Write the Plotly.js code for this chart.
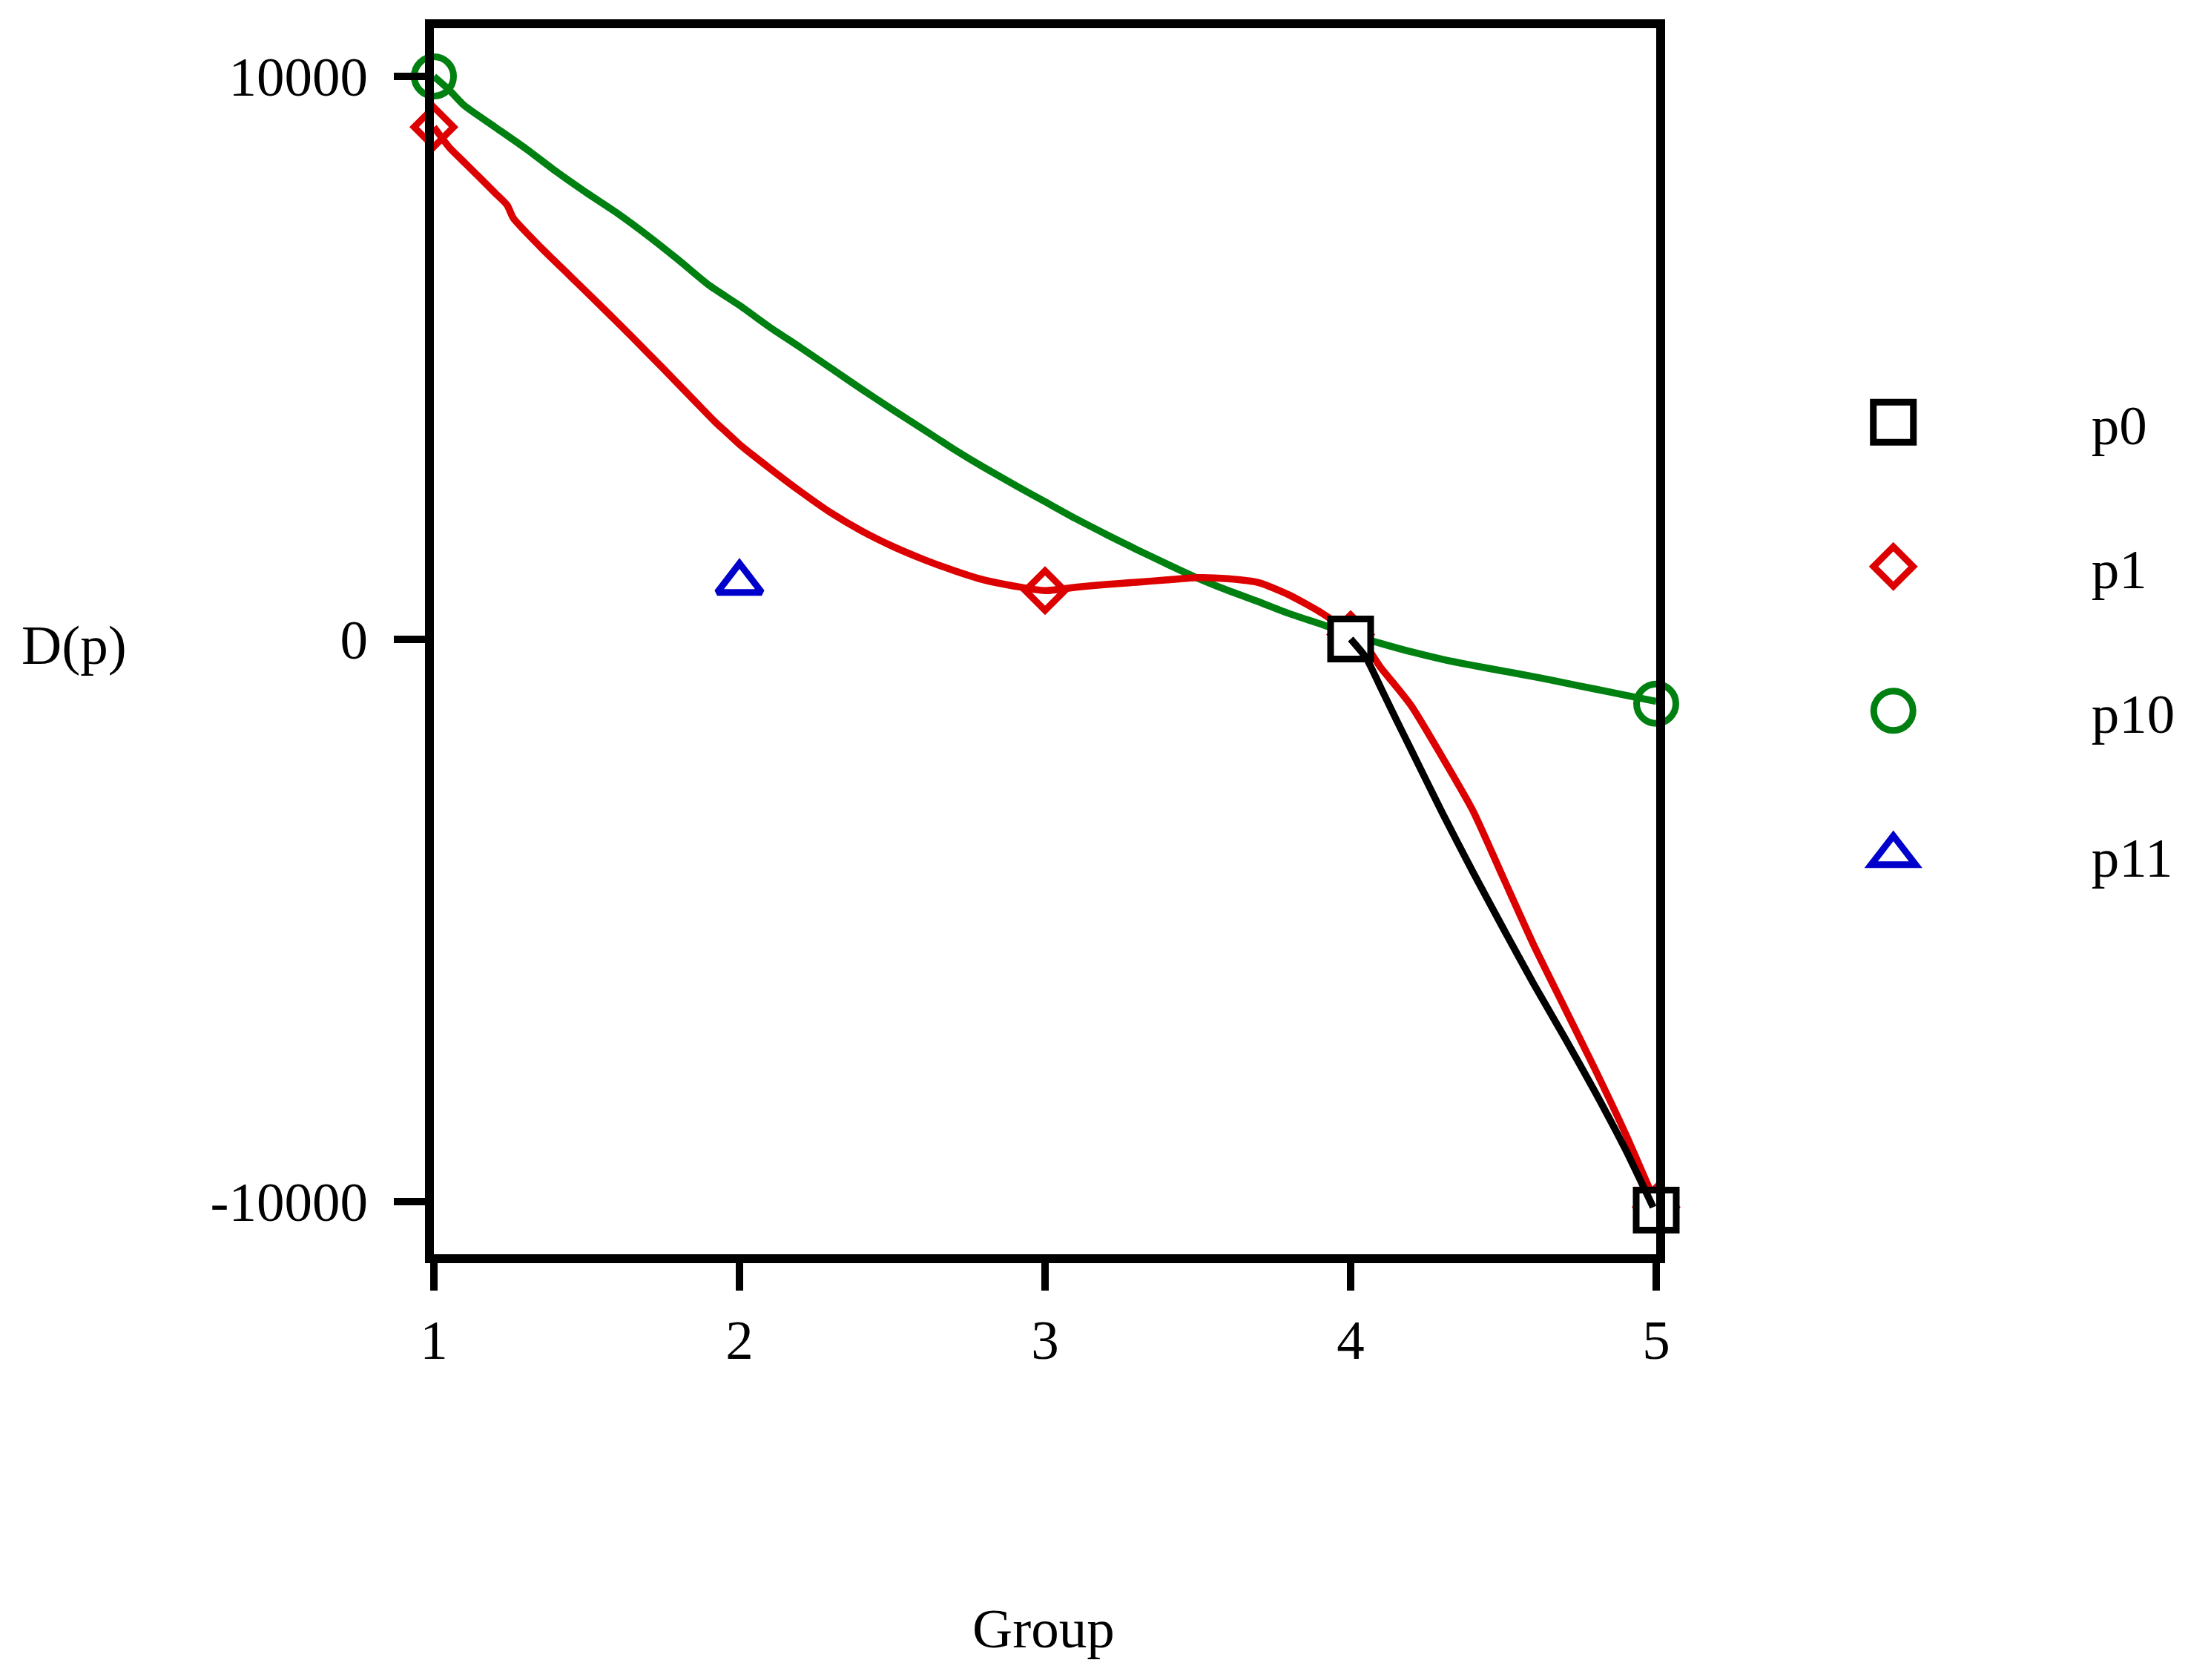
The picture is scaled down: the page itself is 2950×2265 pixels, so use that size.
<!DOCTYPE html>
<html>
<head>
<meta charset="utf-8">
<title>D(p) by Group</title>
<script src="https://cdn.plot.ly/plotly-3.0.1.min.js"></script>
<style>
  html, body { margin: 0; padding: 0; background: #fff; }
  #chart { width: 2950px; height: 2265px; }
</style>
</head>
<body>
<div id="chart"></div>
<script>
// === DATA ===
const groups = [1, 2, 3, 4, 5];
const groupLabels = ['1', '2', '3', '4', '5'];
const dTickVals = [-10000, 0, 10000];
const dTickText = ['-10000', '0', '10000'];

const seriesNames = ['p0', 'p1', 'p10', 'p11'];
const seriesColors = ['#000000', '#dd0000', '#008010', '#0000cc'];
const seriesSymbols = ['square', 'diamond', 'circle', 'triangle-up'];
const seriesSizes = [54, 41, 53, 52];

// measured points (markers)
const p0X = [4, 5];
const p0Y = [0, -10150];
const p1X = [1, 3, 4, 5];
const p1Y = [9100, 860, 80, -10100];
const p10X = [1, 5];
const p10Y = [10000, -1150];
const p11X = [2];
const p11Y = [1000];

// fitted curves
const p10CurveX = [1.0, 1.05, 1.1, 1.2, 1.3, 1.4, 1.5, 1.6, 1.7, 1.8, 1.9, 2.0, 2.1, 2.2, 2.3, 2.4, 2.5,
    2.6, 2.7, 2.8, 2.9, 3.0, 3.1, 3.2, 3.3, 3.4, 3.5, 3.6, 3.7, 3.8, 3.9, 4.0, 4.1, 4.2, 4.3, 4.4,
    4.5, 4.6, 4.7, 4.8, 4.9, 5.0];
const p10CurveY = [10000, 9760, 9480, 9100, 8720, 8310, 7930, 7570, 7170, 6740, 6290, 5930, 5540,
    5180, 4810, 4440, 4080, 3730, 3380, 3050, 2740, 2440, 2140, 1860, 1590, 1330, 1080, 860, 660,
    450, 270, 80, -80, -230, -360, -470, -570, -670, -780, -890, -1000, -1110];

const p1CurveX = [1.0, 1.05, 1.1, 1.2, 1.24, 1.26, 1.35, 1.45, 1.55, 1.65, 1.75, 1.85, 1.92, 1.95,
    2.0, 2.1, 2.2, 2.3, 2.4, 2.5, 2.6, 2.7, 2.8, 2.9, 3.0, 3.1, 3.2, 3.3, 3.4, 3.5, 3.6, 3.7, 3.8,
    3.9, 3.95, 4.0, 4.05, 4.1, 4.15, 4.2, 4.3, 4.4, 4.5, 4.6, 4.7, 4.8, 4.9, 5.0];
const p1CurveY = [9100, 8740, 8470, 7930, 7710, 7480, 6960, 6430, 5900, 5360, 4810, 4250, 3860,
    3710, 3460, 3030, 2620, 2240, 1920, 1650, 1420, 1220, 1050, 940, 860, 920, 970, 1010, 1050,
    1090, 1070, 1000, 780, 480, 300, 120, -120, -520, -850, -1200, -2100, -3050, -4250, -5450,
    -6550, -7650, -8800, -10050];

const p0CurveX = [4.0, 4.05, 4.1, 4.15, 4.2, 4.3, 4.4, 4.5, 4.6, 4.7, 4.8, 4.9, 4.99];
const p0CurveY = [0, -330, -880, -1440, -1990, -3090, -4140, -5150, -6140, -7080, -8050, -9080, -10100];

// === TRACES ===
const FONT = 'Liberation Serif, Times New Roman, serif';
const LINE_W = 9.5;
const MARKER_LW = 9;

function markerTrace(i, xs, ys) {
    return {
        x: xs, y: ys,
        type: 'scatter',
        mode: 'markers',
        name: seriesNames[i],
        legendgroup: seriesNames[i],
        legendrank: i + 1,
        cliponaxis: false,
        marker: {
            symbol: seriesSymbols[i],
            size: seriesSizes[i],
            color: '#ffffff',
            line: { color: seriesColors[i], width: MARKER_LW }
        },
        hoverinfo: 'skip'
    };
}

function curveTrace(i, xs, ys) {
    return {
        x: xs, y: ys,
        type: 'scatter',
        mode: 'lines',
        name: seriesNames[i] + ' fit',
        showlegend: false,
        line: { color: seriesColors[i], width: LINE_W, shape: 'spline', smoothing: 0.6 },
        hoverinfo: 'skip'
    };
}

// drawing order: each series' own curve sits above its markers
const traces = [
    markerTrace(2, p10X, p10Y),
    curveTrace(2, p10CurveX, p10CurveY),
    markerTrace(3, p11X, p11Y),
    markerTrace(1, p1X, p1Y),
    curveTrace(1, p1CurveX, p1CurveY),
    markerTrace(0, p0X, p0Y),
    curveTrace(0, p0CurveX, p0CurveY)
];

const layout = {
    width: 2950,
    height: 2265,
    margin: { l: 585, r: 705, t: 38, b: 574 },
    paper_bgcolor: '#ffffff',
    plot_bgcolor: '#ffffff',
    font: { family: FONT, size: 75, color: '#000000' },
    showlegend: true,
    legend: {
        x: 1.032,
        xanchor: 'left',
        y: 0.712,
        yanchor: 'top',
        itemwidth: 524,
        tracegroupgap: 94,
        bgcolor: 'rgba(0,0,0,0)',
        font: { family: FONT, size: 75, color: '#000000' }
    },
    xaxis: {
        range: [1, 5],
        tickvals: groups,
        ticktext: groupLabels,
        ticks: 'outside',
        ticklen: 37,
        tickwidth: 10,
        tickcolor: '#000000',
        ticklabelstandoff: 2,
        showline: true,
        linewidth: 12,
        linecolor: '#000000',
        mirror: true,
        showgrid: false,
        zeroline: false,
        tickfont: { family: FONT, size: 75, color: '#000000' }
    },
    yaxis: {
        range: [-10936, 10857],
        tickvals: dTickVals,
        ticktext: dTickText,
        ticks: 'outside',
        ticklen: 42,
        tickwidth: 10,
        tickcolor: '#000000',
        ticklabelstandoff: 20,
        showline: true,
        linewidth: 12,
        linecolor: '#000000',
        mirror: true,
        showgrid: false,
        zeroline: false,
        tickfont: { family: FONT, size: 75, color: '#000000' }
    },
    annotations: [
        {
            text: 'D(p)', xref: 'paper', yref: 'paper',
            x: -0.2945, y: 0.4967, xanchor: 'center', yanchor: 'middle',
            showarrow: false, font: { family: FONT, size: 75, color: '#000000' }
        },
        {
            text: 'Group', xref: 'paper', yref: 'paper',
            x: 0.499, y: -0.3055, xanchor: 'center', yanchor: 'middle',
            showarrow: false, font: { family: FONT, size: 75, color: '#000000' }
        }
    ]
};

// plotly caps legend symbols at 16px, so scale them up to the trace size
function enlargeLegendSymbols(gd) {
    gd.querySelectorAll('.legend .traces').forEach(function (item) {
        const d = item.__data__;
        if (!d || !d[0] || !d[0].trace) return;
        const i = seriesNames.indexOf(d[0].trace.name);
        if (i < 0) return;
        const k = seriesSizes[i] / 16;
        item.querySelectorAll('path.scatterpts').forEach(function (p) {
            const t = p.getAttribute('transform') || '';
            p.setAttribute('transform', t + ' scale(' + k + ')');
            p.style.strokeWidth = (MARKER_LW / k) + 'px';
        });
    });
}

Plotly.newPlot('chart', traces, layout, { staticPlot: true, displayModeBar: false })
    .then(enlargeLegendSymbols);
</script>
</body>
</html>
